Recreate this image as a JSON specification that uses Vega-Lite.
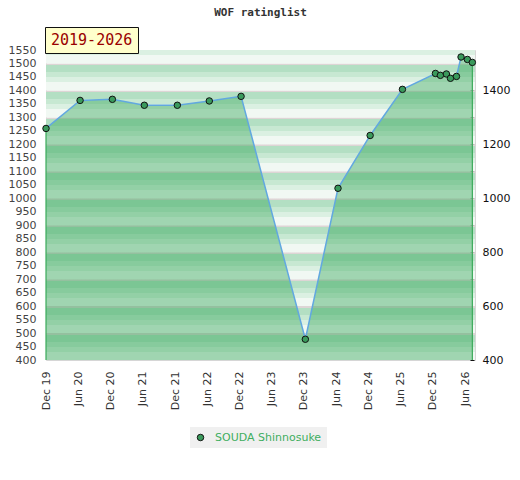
{
  "$schema": "https://vega.github.io/schema/vega-lite/v6.json",
  "autosize": "none",
  "width": 429,
  "height": 310,
  "padding": {"left": 46, "top": 50, "right": 45, "bottom": 120},
  "background": "white",
  "config": {
    "view": {"stroke": "#d6d6d6", "strokeWidth": 1},
    "axis": {"labelFont": "DejaVu Sans", "labelFontSize": 11, "title": null}
  },
  "title": {
    "text": "WOF ratinglist",
    "font": "DejaVu Sans Mono",
    "fontSize": 11,
    "fontWeight": "bold",
    "color": "#333333",
    "anchor": "middle",
    "offset": 9
  },
  "datasets": {
    "ratings": [
      {"date": "2019-12-01T00:00:00", "rating": 1259, "player": "SOUDA Shinnosuke", "period": "2019-2026"},
      {"date": "2020-06-11T00:00:00", "rating": 1363, "player": "SOUDA Shinnosuke", "period": "2019-2026"},
      {"date": "2020-12-11T00:00:00", "rating": 1367, "player": "SOUDA Shinnosuke", "period": "2019-2026"},
      {"date": "2021-06-10T00:00:00", "rating": 1345, "player": "SOUDA Shinnosuke", "period": "2019-2026"},
      {"date": "2021-12-14T00:00:00", "rating": 1345, "player": "SOUDA Shinnosuke", "period": "2019-2026"},
      {"date": "2022-06-13T00:00:00", "rating": 1361, "player": "SOUDA Shinnosuke", "period": "2019-2026"},
      {"date": "2022-12-10T00:00:00", "rating": 1378, "player": "SOUDA Shinnosuke", "period": "2019-2026"},
      {"date": "2023-12-09T00:00:00", "rating": 477, "player": "SOUDA Shinnosuke", "period": "2019-2026"},
      {"date": "2024-06-11T00:00:00", "rating": 1037, "player": "SOUDA Shinnosuke", "period": "2019-2026"},
      {"date": "2024-12-10T00:00:00", "rating": 1233, "player": "SOUDA Shinnosuke", "period": "2019-2026"},
      {"date": "2025-06-11T00:00:00", "rating": 1404, "player": "SOUDA Shinnosuke", "period": "2019-2026"},
      {"date": "2025-12-15T00:00:00", "rating": 1463, "player": "SOUDA Shinnosuke", "period": "2019-2026"},
      {"date": "2026-01-12T00:00:00", "rating": 1456, "player": "SOUDA Shinnosuke", "period": "2019-2026"},
      {"date": "2026-02-15T00:00:00", "rating": 1461, "player": "SOUDA Shinnosuke", "period": "2019-2026"},
      {"date": "2026-03-10T00:00:00", "rating": 1445, "player": "SOUDA Shinnosuke", "period": "2019-2026"},
      {"date": "2026-04-13T00:00:00", "rating": 1452, "player": "SOUDA Shinnosuke", "period": "2019-2026"},
      {"date": "2026-05-09T00:00:00", "rating": 1524, "player": "SOUDA Shinnosuke", "period": "2019-2026"},
      {"date": "2026-06-14T00:00:00", "rating": 1515, "player": "SOUDA Shinnosuke", "period": "2019-2026"},
      {"date": "2026-07-12T00:00:00", "rating": 1504, "player": "SOUDA Shinnosuke", "period": "2019-2026"}
    ],
    "bands": [
      {"lo": 400, "hi": 500}, {"lo": 500, "hi": 600}, {"lo": 600, "hi": 700},
      {"lo": 700, "hi": 800}, {"lo": 800, "hi": 900}, {"lo": 900, "hi": 1000},
      {"lo": 1000, "hi": 1100}, {"lo": 1100, "hi": 1200}, {"lo": 1200, "hi": 1300},
      {"lo": 1300, "hi": 1400}, {"lo": 1400, "hi": 1500}, {"lo": 1500, "hi": 1600}
    ]
  },
  "resolve": {"scale": {"y": "independent"}},
  "layer": [
    {
      "data": {"name": "bands"},
      "mark": {
        "type": "rect",
        "clip": true,
        "color": {
          "gradient": "linear",
          "x1": 0, "y1": 0, "x2": 0, "y2": 1,
          "stops": [
            {"offset": 0, "color": "#ddd5d5"},
            {"offset": 0.06, "color": "#ddd5d5"},
            {"offset": 0.06, "color": "#b3dfc3"},
            {"offset": 0.32, "color": "#b3dfc3"},
            {"offset": 0.32, "color": "#c7e8d2"},
            {"offset": 0.5, "color": "#c7e8d2"},
            {"offset": 0.5, "color": "#dbf0e2"},
            {"offset": 0.69, "color": "#dbf0e2"},
            {"offset": 0.69, "color": "#f1f8f3"},
            {"offset": 1, "color": "#f1f8f3"}
          ]
        }
      },
      "encoding": {
        "y": {"field": "lo", "type": "quantitative", "scale": {"domain": [400, 1550], "nice": false, "zero": false}, "axis": null},
        "y2": {"field": "hi"}
      }
    },
    {
      "data": {"name": "ratings"},
      "encoding": {
        "x": {
          "field": "date", "type": "temporal",
          "scale": {"domain": [{"year": 2019, "month": 12, "date": 1}, {"year": 2026, "month": 7, "date": 27}]},
          "axis": {
            "values": [
              {"year": 2019, "month": 12, "date": 1}, {"year": 2020, "month": 6, "date": 1},
              {"year": 2020, "month": 12, "date": 1}, {"year": 2021, "month": 6, "date": 1},
              {"year": 2021, "month": 12, "date": 1}, {"year": 2022, "month": 6, "date": 1},
              {"year": 2022, "month": 12, "date": 1}, {"year": 2023, "month": 6, "date": 1},
              {"year": 2023, "month": 12, "date": 1}, {"year": 2024, "month": 6, "date": 1},
              {"year": 2024, "month": 12, "date": 1}, {"year": 2025, "month": 6, "date": 1},
              {"year": 2025, "month": 12, "date": 1}, {"year": 2026, "month": 6, "date": 1}
            ],
            "format": "%b %y",
            "labelAngle": 270,
            "labelFlush": false,
            "labelOverlap": false,
            "labelSeparation": -40,
            "labelBound": false,
            "labelPadding": 11,
            "labelColor": "#333333",
            "tickSize": 0,
            "domain": false,
            "grid": false
          }
        }
      },
      "layer": [
        {
          "mark": {"type": "area", "color": "#28a04d", "opacity": 0.4},
          "encoding": {
            "y": {
              "field": "rating", "type": "quantitative",
              "scale": {"domain": [400, 1550], "nice": false, "zero": false},
              "axis": {
                "orient": "left",
                "values": [400, 450, 500, 550, 600, 650, 700, 750, 800, 850, 900, 950, 1000, 1050, 1100, 1150, 1200, 1250, 1300, 1350, 1400, 1450, 1500, 1550],
                "format": "d",
                "labelFlush": false,
                "labelOverlap": false,
                "labelPadding": 10,
                "labelColor": "#444444",
                "tickSize": 0,
                "domain": false,
                "grid": false
              }
            },
            "y2": {"datum": 400}
          }
        },
        {
          "mark": {"type": "line", "color": "#62a8e0", "strokeWidth": 1.5},
          "encoding": {
            "y": {"field": "rating", "type": "quantitative", "scale": {"domain": [400, 1550], "nice": false, "zero": false}, "axis": null}
          }
        },
        {
          "transform": [
            {"window": [{"op": "row_number", "as": "i"}], "sort": [{"field": "date", "order": "ascending"}]},
            {"joinaggregate": [{"op": "count", "as": "n"}]},
            {"filter": "datum.i == 1 || datum.i == datum.n"}
          ],
          "mark": {"type": "rule", "color": "#3aaa5a", "strokeWidth": 1.2},
          "encoding": {
            "y": {
              "field": "rating", "type": "quantitative",
              "scale": {"domain": [400, 1550], "nice": false, "zero": false},
              "axis": {
                "orient": "right",
                "values": [400, 500, 600, 700, 800, 900, 1000, 1100, 1200, 1300, 1400, 1500],
                "format": "d",
                "labelExpr": "datum.value % 200 == 0 ? datum.label : ''",
                "labelFlush": false,
                "labelOverlap": false,
                "labelColor": "#111111",
                "labelPadding": 8,
                "tickSize": 4,
                "tickColor": "#111111",
                "offset": -5,
                "domain": false,
                "grid": false
              }
            },
            "y2": {"datum": 400}
          }
        },
        {
          "mark": {"type": "point", "filled": true, "size": 42, "stroke": "#111111", "strokeWidth": 1, "opacity": 1},
          "encoding": {
            "y": {"field": "rating", "type": "quantitative", "scale": {"domain": [400, 1550], "nice": false, "zero": false}, "axis": null},
            "color": {
              "field": "player", "type": "nominal",
              "scale": {"range": ["#3a9a5c"]},
              "legend": {
                "title": null,
                "orient": "none",
                "legendX": 144,
                "legendY": 377,
                "direction": "horizontal",
                "fillColor": "#f0f0f0",
                "padding": 5,
                "symbolType": "circle",
                "symbolSize": 42,
                "symbolStrokeColor": "#111111",
                "symbolStrokeWidth": 1,
                "labelFont": "DejaVu Sans",
                "labelFontSize": 11,
                "labelColor": "#3fae5f",
                "labelOffset": 9
              }
            },
            "shape": {
              "field": "period", "type": "nominal",
              "scale": {"range": ["circle"]},
              "legend": {
                "title": null,
                "orient": "none",
                "legendX": -1,
                "legendY": -23,
                "fillColor": "#ffffcc",
                "strokeColor": "#111111",
                "padding": 5,
                "symbolSize": 0,
                "symbolOpacity": 0,
                "symbolStrokeWidth": 0,
                "labelOffset": -14,
                "labelFont": "DejaVu Sans Mono",
                "labelFontSize": 15,
                "labelColor": "#990000"
              }
            }
          }
        }
      ]
    }
  ]
}
